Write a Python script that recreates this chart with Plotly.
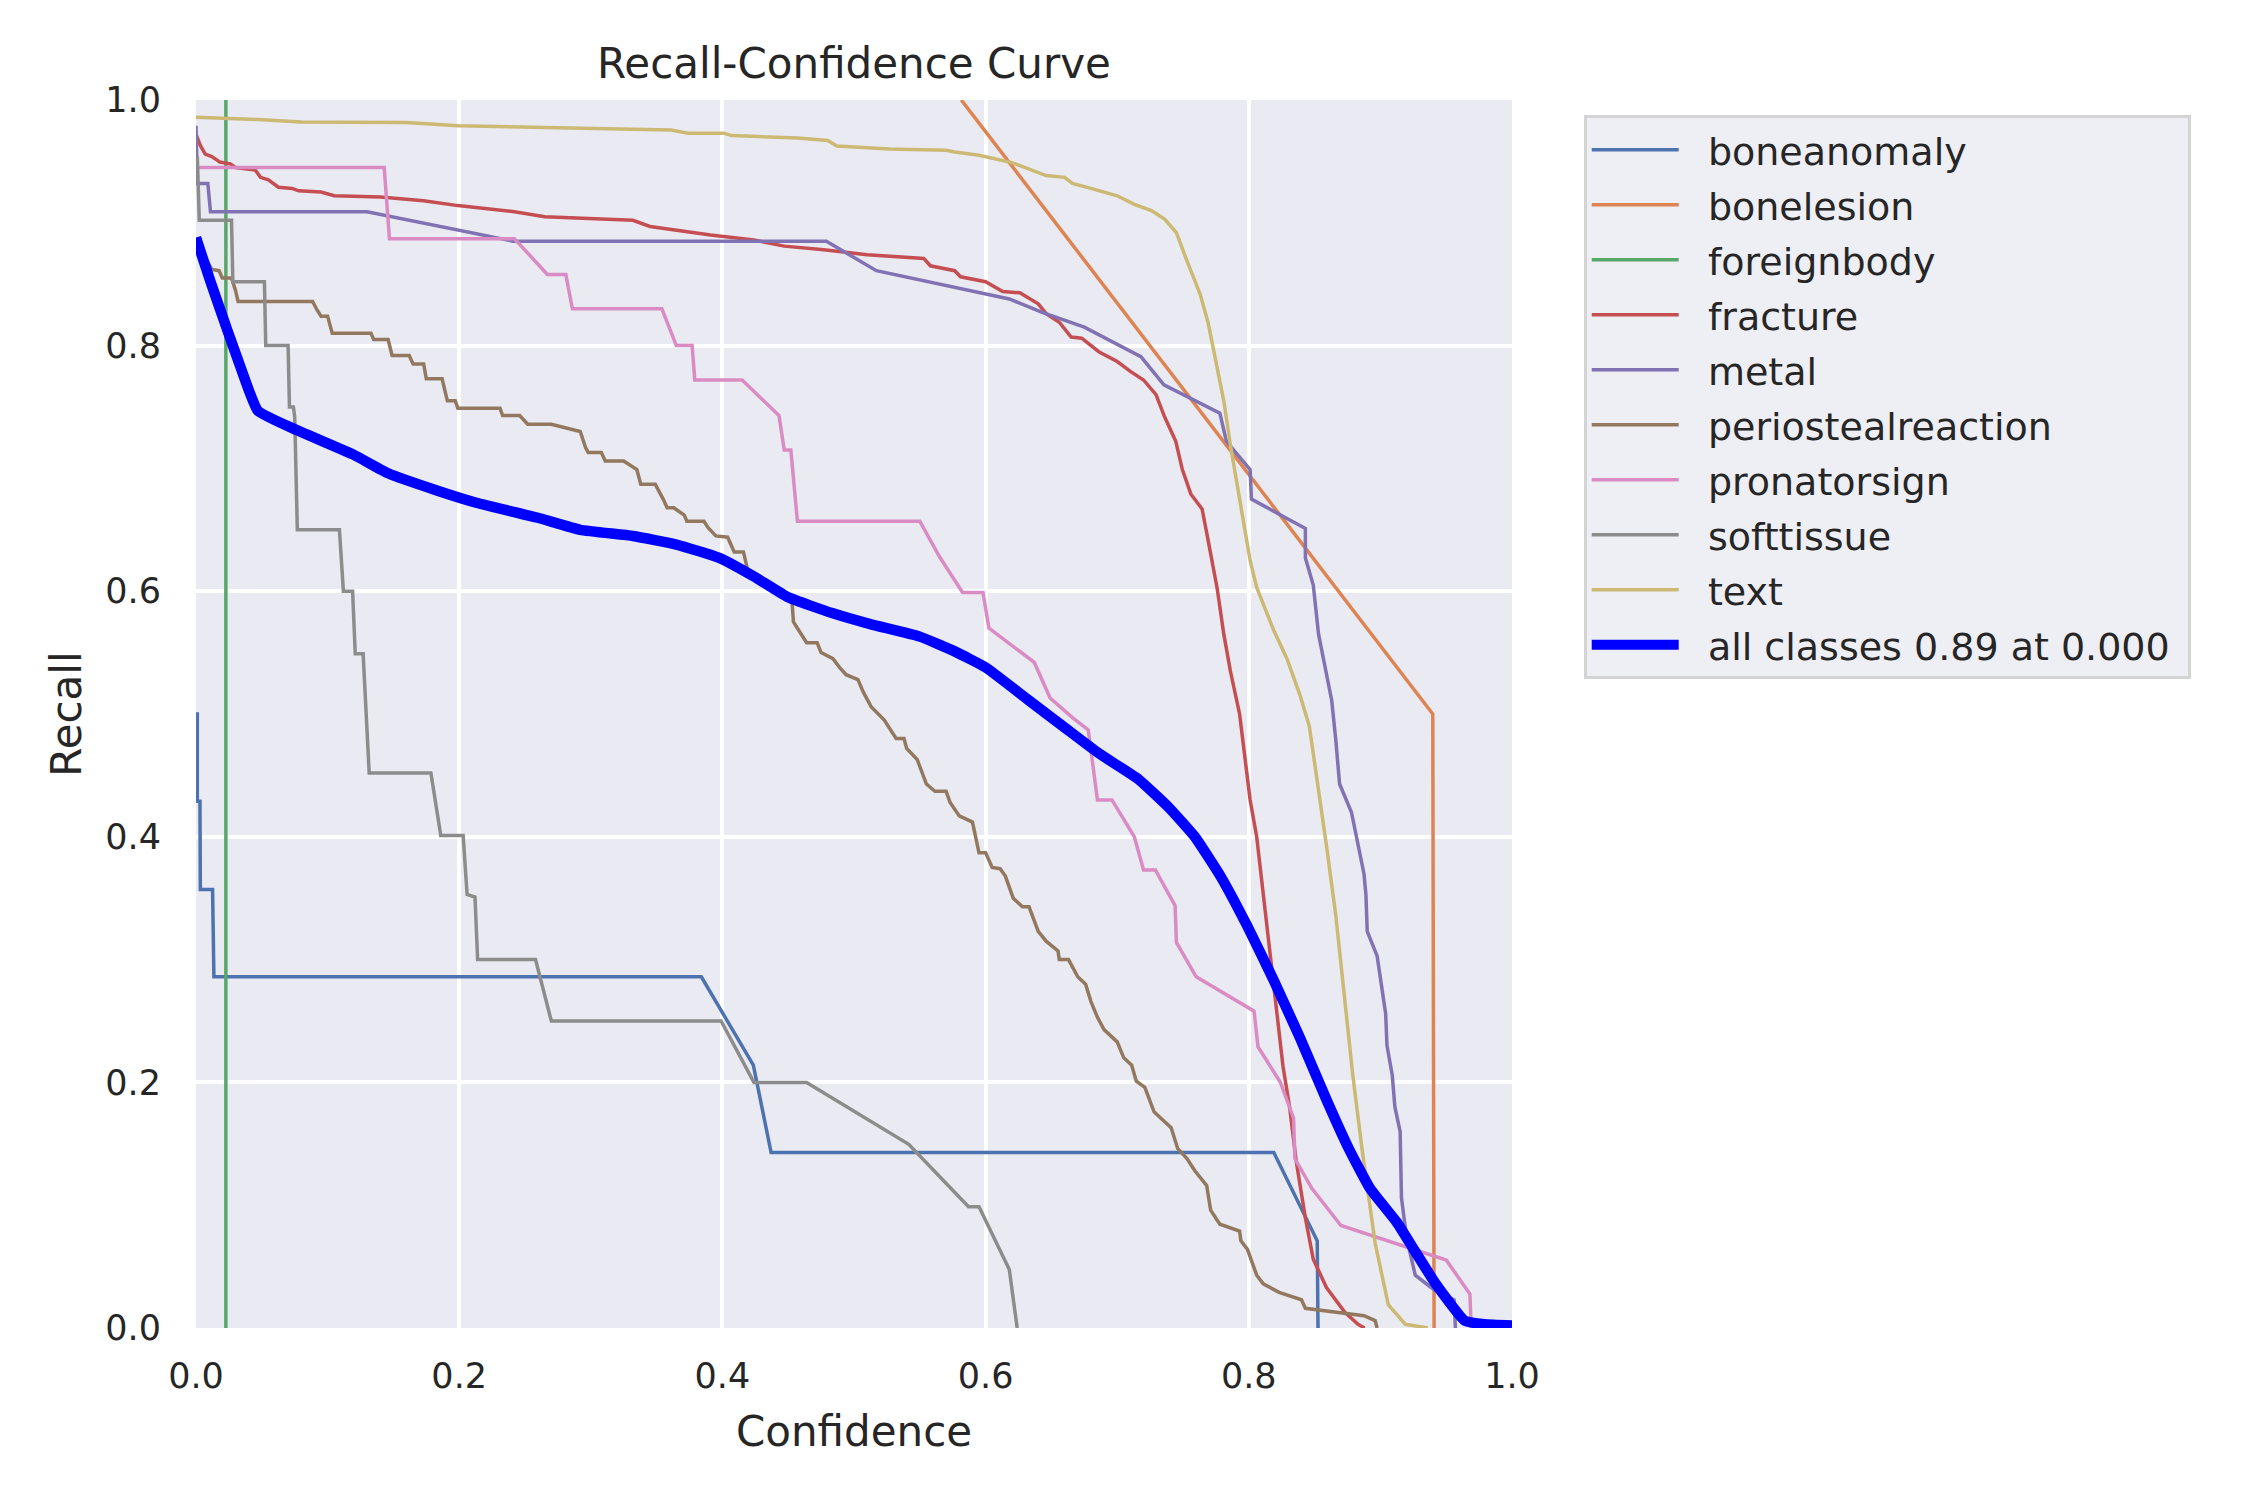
import plotly.graph_objects as go

# recall-confidence data per class
class_names = ["boneanomaly", "bonelesion", "foreignbody", "fracture", "metal",
               "periostealreaction", "pronatorsign", "softtissue", "text"]
class_colors = ["#4C72B0", "#DD8452", "#55A868", "#C44E52", "#8172B3",
                "#937860", "#DA8BC3", "#8C8C8C", "#CCB974"]

boneanomaly_conf = [0, 0.001, 0.001, 0.003, 0.0033, 0.0126, 0.0136, 0.384, 0.4235, 0.437, 0.819, 0.852, 0.8526]
boneanomaly_recall = [0.5, 0.5, 0.429, 0.429, 0.357, 0.357, 0.286, 0.286, 0.214, 0.143, 0.143, 0.071, 0.0]

bonelesion_conf = [0.5815, 0.9398, 0.9408]
bonelesion_recall = [1.0, 0.5, 0.0]

foreignbody_conf = [0.0227, 0.0227]
foreignbody_recall = [1.0, 0.0]

fracture_conf = [0, 0.0033, 0.007, 0.012, 0.016, 0.018, 0.026, 0.03, 0.045, 0.049, 0.055, 0.0626,
                 0.073, 0.078, 0.095, 0.105, 0.14, 0.173, 0.199, 0.242, 0.265, 0.305, 0.332, 0.345,
                 0.375, 0.391, 0.424, 0.447, 0.477, 0.51, 0.553, 0.558, 0.5765, 0.581, 0.6, 0.613,
                 0.626, 0.64, 0.646, 0.656, 0.665, 0.673, 0.686, 0.70, 0.71, 0.72, 0.7295, 0.736,
                 0.7445, 0.7495, 0.756, 0.7645, 0.769, 0.776, 0.781, 0.786, 0.793, 0.801, 0.806,
                 0.811, 0.816, 0.821, 0.826, 0.831, 0.836, 0.843, 0.849, 0.859, 0.866, 0.873, 0.883, 0.888]
fracture_recall = [0.972, 0.963, 0.956, 0.954, 0.951, 0.9495, 0.948, 0.945, 0.943, 0.937, 0.935, 0.929,
                   0.928, 0.926, 0.925, 0.922, 0.921, 0.918, 0.914, 0.909, 0.905, 0.903, 0.902, 0.897,
                   0.892, 0.89, 0.886, 0.881, 0.878, 0.874, 0.871, 0.865, 0.861, 0.856, 0.852, 0.844,
                   0.843, 0.834, 0.826, 0.819, 0.807, 0.806, 0.795, 0.787, 0.779, 0.772, 0.760, 0.742,
                   0.722, 0.699, 0.679, 0.667, 0.642, 0.602, 0.565, 0.535, 0.50, 0.43, 0.40,
                   0.353, 0.306, 0.263, 0.213, 0.18, 0.136, 0.0895, 0.056, 0.033, 0.023, 0.0127, 0.003, 0.0]

metal_conf = [0, 0.001, 0.009, 0.011, 0.13, 0.241, 0.479, 0.517, 0.618, 0.643, 0.675, 0.718, 0.7355,
              0.778, 0.783, 0.801, 0.802, 0.843, 0.843, 0.849, 0.853, 0.858, 0.863, 0.866, 0.869, 0.878,
              0.8875, 0.889, 0.89, 0.8975, 0.904, 0.905, 0.909, 0.911, 0.915, 0.916, 0.92, 0.9265,
              0.941, 0.956, 0.957]
metal_recall = [0.979, 0.932, 0.932, 0.909, 0.909, 0.885, 0.885, 0.861, 0.838, 0.827, 0.815, 0.791, 0.768,
                0.745, 0.722, 0.699, 0.675, 0.651, 0.627, 0.605, 0.565, 0.538, 0.511, 0.48, 0.443, 0.42,
                0.37, 0.353, 0.323, 0.303, 0.256, 0.23, 0.206, 0.18, 0.16, 0.106, 0.073, 0.043,
                0.031, 0.023, 0.0]

periostealreaction_conf = [0, 0.012, 0.0175, 0.02, 0.027, 0.03, 0.032, 0.0886, 0.092, 0.095, 0.1, 0.1035,
                           0.133, 0.135, 0.146, 0.149, 0.162, 0.165, 0.173, 0.175, 0.187, 0.191, 0.197,
                           0.199, 0.231, 0.233, 0.246, 0.252, 0.27, 0.292, 0.296, 0.298, 0.308, 0.311,
                           0.325, 0.335, 0.338, 0.349, 0.355, 0.358, 0.363, 0.371, 0.373, 0.386, 0.389,
                           0.395, 0.404, 0.409, 0.416, 0.419, 0.453, 0.454, 0.464, 0.472, 0.475, 0.484,
                           0.489, 0.494, 0.503, 0.507, 0.513, 0.523, 0.532, 0.538, 0.54, 0.548, 0.555,
                           0.5615, 0.57, 0.573, 0.58, 0.59, 0.595, 0.6, 0.605, 0.611, 0.615, 0.621, 0.628,
                           0.633, 0.64, 0.646, 0.655, 0.656, 0.663, 0.67, 0.676, 0.68, 0.685, 0.69, 0.7,
                           0.705, 0.711, 0.7145, 0.721, 0.728, 0.733, 0.741, 0.746, 0.753, 0.759, 0.768,
                           0.771, 0.778, 0.793, 0.794, 0.799, 0.806, 0.811, 0.823, 0.84, 0.843, 0.8875,
                           0.896, 0.8975]
periostealreaction_recall = [0.885, 0.862, 0.861, 0.855, 0.855, 0.845, 0.836, 0.836, 0.829, 0.824, 0.824, 0.81,
                             0.81, 0.805, 0.805, 0.792, 0.792, 0.785, 0.785, 0.773, 0.773, 0.755, 0.755,
                             0.749, 0.749, 0.743, 0.743, 0.736, 0.736, 0.73, 0.717, 0.713, 0.713, 0.706,
                             0.706, 0.699, 0.687, 0.687, 0.675, 0.668, 0.668, 0.662, 0.657, 0.657, 0.652,
                             0.645, 0.644, 0.632, 0.632, 0.618, 0.59, 0.575, 0.558, 0.558, 0.55, 0.545,
                             0.538, 0.532, 0.528, 0.518, 0.506, 0.495, 0.48, 0.48, 0.472, 0.463, 0.443,
                             0.437, 0.437, 0.428, 0.417, 0.412, 0.387, 0.387, 0.375, 0.374, 0.368, 0.35, 0.343,
                             0.343, 0.323, 0.315, 0.307, 0.3, 0.3, 0.286, 0.28, 0.266, 0.253, 0.243, 0.233,
                             0.22, 0.214, 0.201, 0.196, 0.176, 0.171, 0.163, 0.146, 0.138, 0.128, 0.116,
                             0.096, 0.0845, 0.079, 0.071, 0.064, 0.043, 0.036, 0.029, 0.023, 0.016, 0.01,
                             0.006, 0.0]

pronatorsign_conf = [0, 0.143, 0.147, 0.242, 0.267, 0.281, 0.286, 0.354, 0.365, 0.377, 0.379, 0.415,
                     0.443, 0.447, 0.452, 0.457, 0.55, 0.565, 0.5825, 0.598, 0.6025, 0.637, 0.649,
                     0.666, 0.678, 0.682, 0.685, 0.696, 0.713, 0.72, 0.729, 0.744, 0.745, 0.76, 0.804,
                     0.807, 0.824, 0.834, 0.835, 0.848, 0.87, 0.95, 0.968, 0.969]
pronatorsign_recall = [0.945, 0.945, 0.887, 0.887, 0.858, 0.858, 0.83, 0.83, 0.8, 0.8, 0.772, 0.772,
                       0.743, 0.715, 0.715, 0.657, 0.657, 0.628, 0.599, 0.599, 0.57, 0.542, 0.513,
                       0.497, 0.487, 0.457, 0.43, 0.43, 0.4, 0.373, 0.373, 0.344, 0.314, 0.286, 0.258,
                       0.229, 0.2, 0.171, 0.138, 0.1135, 0.0835, 0.0554, 0.0277, 0.0]

softtissue_conf = [0.001, 0.0025, 0.027, 0.028, 0.052, 0.053, 0.07, 0.071, 0.074, 0.075, 0.077, 0.109,
                   0.112, 0.119, 0.121, 0.127, 0.1316, 0.1785, 0.186, 0.203, 0.206, 0.212, 0.214, 0.258,
                   0.27, 0.399, 0.424, 0.464, 0.5416, 0.587, 0.595, 0.618, 0.624]
softtissue_recall = [0.954, 0.902, 0.902, 0.852, 0.852, 0.8, 0.8, 0.75, 0.75, 0.742, 0.65, 0.65,
                     0.6, 0.6, 0.549, 0.549, 0.452, 0.452, 0.401, 0.401, 0.353, 0.351, 0.3, 0.3,
                     0.25, 0.25, 0.2, 0.2, 0.1496, 0.0988, 0.0988, 0.0477, 0.0]

text_conf = [0, 0.0506, 0.080, 0.16, 0.199, 0.292, 0.361, 0.374, 0.401, 0.407, 0.457, 0.480, 0.487,
             0.527, 0.570, 0.5765, 0.595, 0.62, 0.646, 0.660, 0.666, 0.680, 0.70, 0.713, 0.726, 0.736,
             0.745, 0.753, 0.763, 0.769, 0.776, 0.781, 0.786, 0.793, 0.801, 0.806, 0.819, 0.829, 0.839,
             0.846, 0.853, 0.859, 0.866, 0.873, 0.879, 0.886, 0.896, 0.906, 0.919, 0.936]
text_recall = [0.986, 0.984, 0.982, 0.9816, 0.979, 0.977, 0.9756, 0.973, 0.973, 0.971, 0.969, 0.967, 0.9626,
               0.960, 0.959, 0.9576, 0.955, 0.949, 0.9385, 0.937, 0.932, 0.928, 0.922, 0.915, 0.91, 0.903,
               0.892, 0.869, 0.842, 0.819, 0.782, 0.755, 0.719, 0.675, 0.625, 0.603, 0.568, 0.545, 0.515,
               0.49, 0.44, 0.393, 0.337, 0.263, 0.206, 0.146, 0.069, 0.019, 0.003, 0.0]

all_conf = [0, 0.011, 0.024, 0.034, 0.047, 0.077, 0.12, 0.146, 0.183, 0.213, 0.259, 0.292, 0.332, 0.365,
            0.398, 0.424, 0.45, 0.484, 0.513, 0.55, 0.5765, 0.6, 0.633, 0.66, 0.686, 0.716, 0.74, 0.759,
            0.779, 0.799, 0.819, 0.839, 0.859, 0.876, 0.8925, 0.9125, 0.926, 0.942, 0.964, 0.979, 1.0]
all_recall = [0.888, 0.852, 0.812, 0.782, 0.747, 0.731, 0.711, 0.696, 0.682, 0.672, 0.66, 0.65, 0.645, 0.638,
              0.627, 0.612, 0.595, 0.582, 0.573, 0.563, 0.551, 0.538, 0.511, 0.489, 0.468, 0.447, 0.423, 0.4,
              0.367, 0.327, 0.283, 0.236, 0.186, 0.146, 0.113, 0.086, 0.063, 0.036, 0.006, 0.003, 0.002]
all_label = "all classes 0.89 at 0.000"

ticks = [0.0, 0.2, 0.4, 0.6, 0.8, 1.0]

curves = [
    (boneanomaly_conf, boneanomaly_recall),
    (bonelesion_conf, bonelesion_recall),
    (foreignbody_conf, foreignbody_recall),
    (fracture_conf, fracture_recall),
    (metal_conf, metal_recall),
    (periostealreaction_conf, periostealreaction_recall),
    (pronatorsign_conf, pronatorsign_recall),
    (softtissue_conf, softtissue_recall),
    (text_conf, text_recall),
]

text_color = "#262626"
font = "DejaVu Sans"
pad = "\u00a0\u00a0"  # gap between legend line sample and label

fig = go.Figure()
for name, color, (xs, ys) in zip(class_names, class_colors, curves):
    fig.add_trace(go.Scatter(x=xs, y=ys, mode="lines", name=pad + name, legendgroup=name,
                             line=dict(color=color, width=3.5)))

fig.add_trace(go.Scatter(x=all_conf, y=all_recall, mode="lines",
                         name=pad + all_label + "\u00a0", legendgroup="all",
                         line=dict(color="#0000FF", width=10.5, shape="spline", smoothing=0.4)))

# page body has an 8px margin, so the figure is a bit smaller than the window
fig.update_layout(
    width=2234, height=1484, autosize=False,
    margin=dict(l=188, r=730, t=92, b=164),
    paper_bgcolor="white",
    plot_bgcolor="#EAEAF2",
    font=dict(family=font, size=35, color=text_color),
    title=dict(text="Recall-Confidence Curve", x=0.5, xref="paper", xanchor="center",
               y=1 - 55 / 1484, yref="container", yanchor="middle",
               font=dict(family=font, size=42, color=text_color)),
    legend=dict(x=1.0545, y=0.9874, xanchor="left", yanchor="top",
                bgcolor="rgba(234,234,242,0.8)", bordercolor="#D4D4D4", borderwidth=3,
                font=dict(family=font, size=38, color=text_color),
                itemwidth=87, tracegroupgap=2.6),
    showlegend=True,
)

fig.update_xaxes(range=[0, 1], tickvals=ticks, tickformat=".1f",
                 showgrid=True, gridcolor="white", gridwidth=3.5,
                 zeroline=False, showline=False, ticks="", ticklabelstandoff=24,
                 tickfont=dict(family=font, size=35, color=text_color),
                 title=dict(text="Confidence", standoff=21,
                            font=dict(family=font, size=42, color=text_color)))
fig.update_yaxes(range=[0, 1], tickvals=ticks, tickformat=".1f",
                 showgrid=True, gridcolor="white", gridwidth=3.5,
                 zeroline=False, showline=False, ticks="", ticklabelstandoff=34,
                 tickfont=dict(family=font, size=35, color=text_color),
                 title=dict(text="Recall", standoff=10,
                            font=dict(family=font, size=42, color=text_color)))

fig.write_html("out.html")
